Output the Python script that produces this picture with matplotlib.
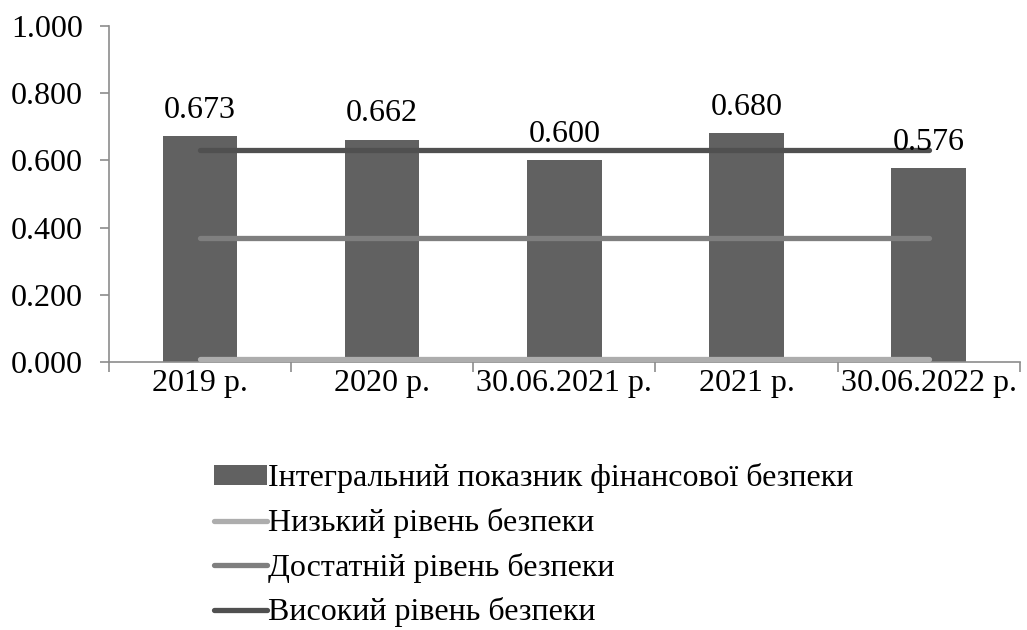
import matplotlib.pyplot as plt
import numpy as np
from matplotlib.patches import Patch
from matplotlib.lines import Line2D

plt.rcParams['font.family'] = 'serif'
plt.rcParams['font.serif'] = ['Liberation Serif', 'DejaVu Serif']

# data for the chart
periods = ["2019 р.", "2020 р.", "30.06.2021 р.", "2021 р.", "30.06.2022 р."]
integral = [0.673, 0.662, 0.600, 0.680, 0.576]
low_level = [0.01, 0.01, 0.01, 0.01, 0.01]
enough_level = [0.37, 0.37, 0.37, 0.37, 0.37]
high_level = [0.63, 0.63, 0.63, 0.63, 0.63]

series_names = ["Інтегральний показник фінансової безпеки",
                "Низький рівень безпеки",
                "Достатній рівень безпеки",
                "Високий рівень безпеки"]

bar_color = "#616161"
low_color = "#adadad"
enough_color = "#7f7f7f"
high_color = "#505050"
axis_color = "#8c8c8c"
fsize = 23

fig = plt.figure(figsize=(10.27, 6.3), dpi=100)
ax = fig.add_axes([0.106, 0.425, 0.887, 0.534])

x = np.arange(len(periods))
ax.bar(x, integral, width=0.41, color=bar_color, zorder=2)

for vals, col in [(low_level, low_color), (enough_level, enough_color), (high_level, high_color)]:
    ax.plot(x, vals, color=col, linewidth=3.8, solid_capstyle='round', zorder=3)

# value labels above bars
for xi, v in zip(x, integral):
    ax.annotate("%.3f" % v, (xi, v), xytext=(0, 8), textcoords='offset points',
                ha='center', va='bottom', fontsize=fsize, zorder=4)

ax.set_xlim(-0.5, len(periods) - 0.5)
ax.set_ylim(0, 1.0)
ax.set_yticks(np.arange(0, 1.01, 0.2))
ax.set_yticklabels(["%.3f" % t for t in np.arange(0, 1.01, 0.2)], fontsize=fsize)

ax.set_xticks(x)
ax.set_xticklabels(periods, fontsize=fsize)
ax.tick_params(axis='x', length=0, pad=5)
ax.set_xticks(np.arange(-0.5, len(periods)), minor=True)
ax.tick_params(axis='x', which='minor', length=7, color=axis_color, width=1.2)
ax.tick_params(axis='y', length=6.5, color=axis_color, width=1.2, pad=12)

for s in ['top', 'right']:
    ax.spines[s].set_visible(False)
for s in ['left', 'bottom']:
    ax.spines[s].set_color(axis_color)
    ax.spines[s].set_linewidth(1.2)

handles = [Patch(facecolor=bar_color, edgecolor='none'),
           Line2D([0], [0], color=low_color, lw=3.8, solid_capstyle='round'),
           Line2D([0], [0], color=enough_color, lw=3.8, solid_capstyle='round'),
           Line2D([0], [0], color=high_color, lw=3.8, solid_capstyle='round')]
fig.legend(handles, series_names, loc='upper left', bbox_to_anchor=(0.193, 0.29),
           frameon=False, fontsize=fsize, handlelength=1.65, handleheight=0.55,
           handletextpad=0.05, labelspacing=0.46, borderpad=0)

fig.savefig("out.png", dpi=100)
